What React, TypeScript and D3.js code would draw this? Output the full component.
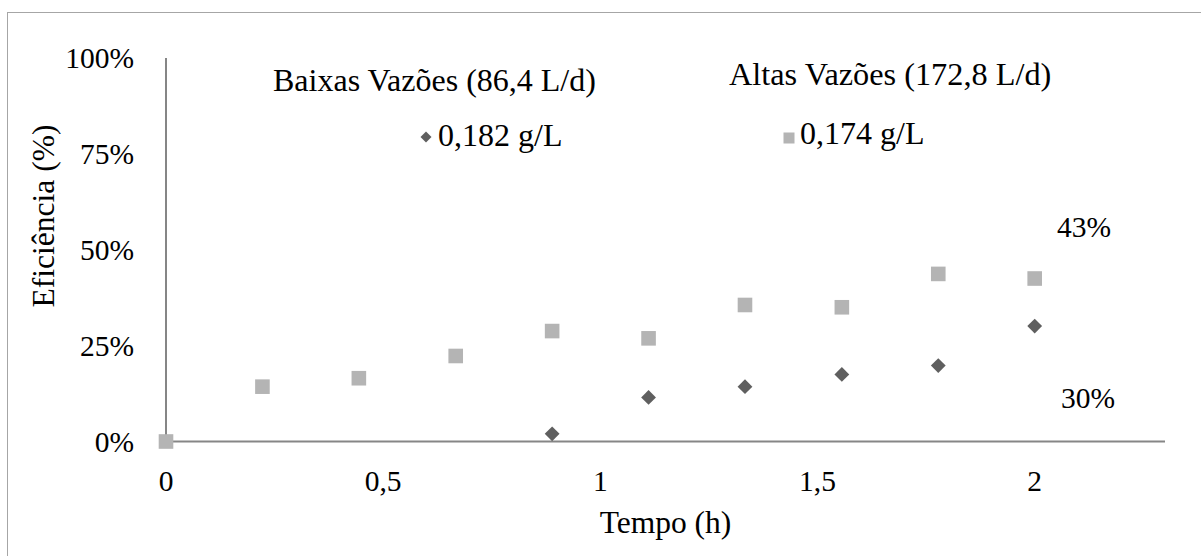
import React from "react";
import * as d3 from "d3";

const times = [0, 0.222, 0.444, 0.667, 0.889, 1.111, 1.333, 1.556, 1.778, 2.0];
const altasValues = [0, 14.3, 16.5, 22.3, 28.8, 26.9, 35.6, 35.0, 43.7, 42.5];
const baixasTimes = [0.889, 1.111, 1.333, 1.556, 1.778, 2.0];
const baixasValues = [2.0, 11.5, 14.3, 17.5, 19.8, 30.1];
const xTicks = [0, 0.5, 1, 1.5, 2];
const yTicks = [0, 25, 50, 75, 100];

const FONT = "'Liberation Serif', 'Times New Roman', serif";
const DARK = "#5f5f5f";
const LIGHT = "#b4b4b4";
const AXIS = "#868686";

export default function App() {
  const x = d3.scaleLinear().domain([0, 2.3]).range([166, 1165]);
  const y = d3.scaleLinear().domain([0, 100]).range([441.5, 58]);
  const fmtX = (v: number) => String(v).replace(".", ",");
  const dPath = (cx: number, cy: number, r: number) =>
    `M${cx},${cy - r}L${cx + r},${cy}L${cx},${cy + r}L${cx - r},${cy}Z`;

  return (
    <svg
      width={1201}
      height={556}
      style={{ position: "absolute", left: 0, top: 0, background: "#fff" }}
      fontFamily={FONT}
    >
      <rect x={7.5} y={12.5} width={1400} height={700} fill="#fff" stroke="#a6a6a6" strokeWidth={1} />
      {/* axes */}
      <line x1={x(0)} x2={x(0)} y1={y(100)} y2={y(0)} stroke={AXIS} strokeWidth={2} />
      <line x1={x(0)} x2={x(2.3)} y1={y(0)} y2={y(0)} stroke={AXIS} strokeWidth={2} />
      {yTicks.map((t) => (
        <text key={t} x={134} y={y(t) + 10} textAnchor="end" fontSize={29.5} fill="#000">
          {t}%
        </text>
      ))}
      {xTicks.map((t) => (
        <text key={t} x={x(t)} y={490.5} textAnchor="middle" fontSize={29.5} fill="#000">
          {fmtX(t)}
        </text>
      ))}
      <text x={665.5} y={533} textAnchor="middle" fontSize={31.5} fill="#000">
        Tempo (h)
      </text>
      <text
        transform={`translate(54,216) rotate(-90)`}
        textAnchor="middle"
        fontSize={31.5}
        fill="#000"
      >
        Eficiência (%)
      </text>
      {/* series */}
      {times.map((t, i) => (
        <rect
          key={"a" + i}
          x={x(t) - 7.3}
          y={y(altasValues[i]) - 7.3}
          width={14.6}
          height={14.6}
          fill={LIGHT}
        />
      ))}
      {baixasTimes.map((t, i) => (
        <path key={"b" + i} d={dPath(x(t), y(baixasValues[i]), 7.4)} fill={DARK} />
      ))}
      {/* legend */}
      <text x={273} y={91} fontSize={32} fill="#000">
        Baixas Vazões (86,4 L/d)
      </text>
      <text x={729} y={85} fontSize={32.3} fill="#000">
        Altas Vazões (172,8 L/d)
      </text>
      <path d={dPath(426, 137, 5.5)} fill={DARK} />
      <text x={438} y={145.5} fontSize={32} fill="#000">
        0,182 g/L
      </text>
      <rect x={783.5} y={132.5} width={11} height={11} fill={LIGHT} />
      <text x={800} y={144} fontSize={32} fill="#000">
        0,174 g/L
      </text>
      {/* data labels */}
      <text x={1057} y={237} fontSize={29.5} fill="#000">
        43%
      </text>
      <text x={1061} y={408} fontSize={29.5} fill="#000">
        30%
      </text>
    </svg>
  );
}
